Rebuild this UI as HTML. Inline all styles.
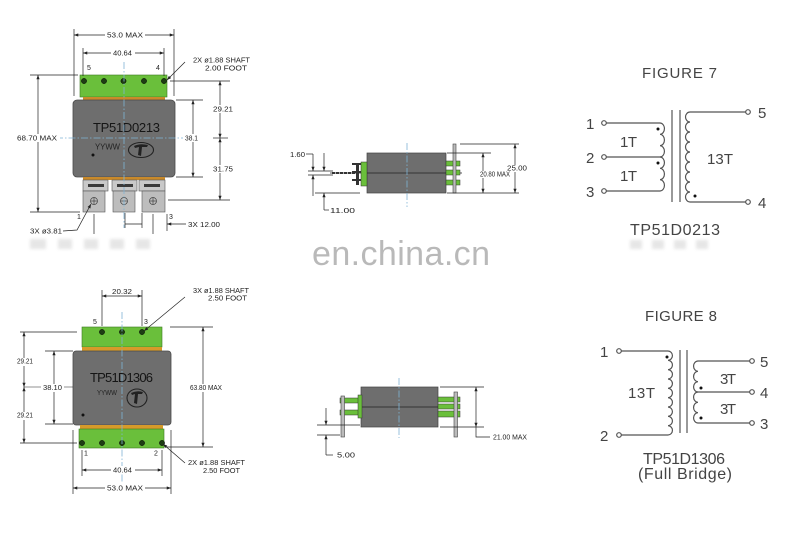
<!DOCTYPE html>
<html><head><meta charset="utf-8"><style>
html,body{margin:0;padding:0;background:#fff;}
svg{display:block;}
text{font-family:"Liberation Sans",sans-serif;}
</style></head><body>
<svg width="800" height="533" viewBox="0 0 800 533" xmlns="http://www.w3.org/2000/svg">
<defs>
<marker id="a" viewBox="0 0 8 6" refX="8" refY="3" markerWidth="5" markerHeight="3.2" orient="auto-start-reverse" markerUnits="userSpaceOnUse"><path d="M0,0 L8,3 L0,6 z" fill="#222"/></marker>
<filter id="bl" x="-20%" y="-50%" width="140%" height="200%"><feGaussianBlur stdDeviation="1.5"/></filter>
</defs>
<rect width="800" height="533" fill="#fff"/>

<!-- watermark artifacts -->
<g fill="#e6e6e6" filter="url(#bl)">
<rect x="30" y="239" width="16" height="10"/><rect x="58" y="239" width="14" height="10"/><rect x="84" y="239" width="14" height="10"/><rect x="110" y="239" width="14" height="10"/><rect x="136" y="239" width="14" height="10"/>
<rect x="630" y="240" width="12" height="9"/><rect x="652" y="240" width="12" height="9"/><rect x="674" y="240" width="12" height="9"/><rect x="696" y="240" width="12" height="9"/>
</g>
<text x="312" y="265" font-size="34" fill="#b9b9b9" textLength="178">en.china.cn</text>

<!-- ============ TOP LEFT ============ -->
<g>
<rect x="80" y="75" width="87" height="22" fill="#6abf3b" stroke="#3c7a22" stroke-width="0.6"/>
<rect x="83" y="97" width="82" height="3.5" fill="#c8892a"/>
<rect x="73" y="100" width="102" height="77" rx="4" fill="#6e6e6e" stroke="#4a4a4a" stroke-width="0.8"/>
<rect x="83" y="177" width="82" height="3" fill="#c8892a"/>
<g fill="#c9c9c9" stroke="#555" stroke-width="0.6">
<rect x="83" y="180" width="25" height="11"/><rect x="112" y="180" width="25" height="11"/><rect x="139" y="180" width="26" height="11"/>
</g>
<g fill="#3a3a3a"><rect x="88" y="184" width="16" height="3"/><rect x="117" y="184" width="16" height="3"/><rect x="144" y="184" width="16" height="3"/></g>
<g fill="#bdbdbd" stroke="#555" stroke-width="0.6">
<rect x="83" y="191" width="22" height="21"/><rect x="113" y="191" width="22" height="21"/><rect x="142" y="191" width="23" height="21"/>
</g>
<g fill="none" stroke="#444" stroke-width="0.7">
<circle cx="94" cy="201" r="3.5"/><path d="M90.5,201 H97.5 M94,197.5 V204.5"/>
<circle cx="124" cy="201" r="3.5"/><path d="M120.5,201 H127.5"/>
<circle cx="153" cy="201" r="3.5"/><path d="M149.5,201 H156.5 M153,197.5 V204.5"/>
</g>
<g fill="#1e3d14" stroke="#000" stroke-width="0.5">
<circle cx="84" cy="81" r="2.6"/><circle cx="104" cy="81" r="2.6"/><circle cx="123.5" cy="81" r="2.6"/><circle cx="144" cy="81" r="2.6"/><circle cx="164" cy="81" r="2.6"/>
</g>
<text x="93" y="132" font-size="13" fill="#151515" textLength="67">TP51D0213</text>
<text x="95" y="149.5" font-size="8" fill="#222" textLength="25" lengthAdjust="spacingAndGlyphs">YYWW</text>
<ellipse cx="141" cy="150" rx="12.5" ry="7.5" fill="none" stroke="#222" stroke-width="1.1"/>
<path d="M134,146 Q140,143 148,145 L147,147 L142,147 L141,156 L138,155 L139,147 L135,148 z" fill="#222"/>
<circle cx="93" cy="155" r="1.5" fill="#111"/>
<g stroke="#7fb3d5" stroke-width="0.8" stroke-dasharray="7 2 1.5 2" fill="none">
<line x1="124" y1="62" x2="124" y2="228"/><line x1="56" y1="138" x2="188" y2="138"/>
</g>
<g stroke="#222" stroke-width="0.7" fill="none">
<line x1="74" y1="29" x2="74" y2="96"/><line x1="174" y1="29" x2="174" y2="96"/>
<line x1="74" y1="35" x2="174" y2="35" marker-start="url(#a)" marker-end="url(#a)"/>
<line x1="83" y1="48" x2="83" y2="76"/><line x1="164" y1="48" x2="164" y2="76"/>
<line x1="83" y1="53" x2="164" y2="53" marker-start="url(#a)" marker-end="url(#a)"/>
<line x1="30" y1="75" x2="78" y2="75"/><line x1="30" y1="212" x2="80" y2="212"/>
<line x1="38" y1="75" x2="38" y2="212" marker-start="url(#a)" marker-end="url(#a)"/>
<line x1="170" y1="81" x2="230" y2="81"/><line x1="176" y1="100" x2="203" y2="100"/><line x1="176" y1="177" x2="203" y2="177"/><line x1="168" y1="200" x2="230" y2="200"/>
<line x1="220" y1="81" x2="220" y2="138" marker-start="url(#a)" marker-end="url(#a)"/>
<line x1="220" y1="138" x2="220" y2="200" marker-start="url(#a)" marker-end="url(#a)"/>
<line x1="213" y1="138" x2="228" y2="138"/>
<line x1="193" y1="100" x2="193" y2="177" marker-start="url(#a)" marker-end="url(#a)"/>
<line x1="185" y1="62" x2="167" y2="80" marker-end="url(#a)"/>
<polyline points="63,231 77,230 91,204" marker-end="url(#a)"/>
<line x1="94" y1="214" x2="94" y2="234"/><line x1="153" y1="214" x2="153" y2="234"/>
<line x1="125" y1="213" x2="125" y2="228"/><line x1="142" y1="213" x2="142" y2="228"/>
<line x1="125" y1="224" x2="142" y2="224"/>
<line x1="167" y1="214" x2="167" y2="231"/>
<line x1="186" y1="224" x2="167" y2="224" marker-end="url(#a)"/>
</g>
<g fill="#fff">
<rect x="105" y="31" width="40" height="8"/><rect x="111" y="49" width="24" height="8"/>
<rect x="15" y="134" width="45" height="8"/><rect x="183" y="134" width="18" height="8"/>
<rect x="211" y="105" width="25" height="8"/><rect x="211" y="165" width="25" height="8"/>
</g>
<g font-size="7" fill="#222" lengthAdjust="spacingAndGlyphs">
<text x="107" y="37.5" textLength="36" lengthAdjust="spacingAndGlyphs">53.0 MAX</text>
<text x="113" y="55.5" textLength="19" lengthAdjust="spacingAndGlyphs">40.64</text>
<text x="87" y="70">5</text><text x="156" y="70">4</text>
<text x="193" y="62.5" textLength="57" lengthAdjust="spacingAndGlyphs">2X ø1.88 SHAFT</text>
<text x="205" y="70.5" textLength="42" lengthAdjust="spacingAndGlyphs">2.00 FOOT</text>
<text x="17" y="140.5" textLength="40" lengthAdjust="spacingAndGlyphs">68.70 MAX</text>
<text x="185" y="140.5" textLength="13" lengthAdjust="spacingAndGlyphs">38.1</text>
<text x="213" y="111.5" textLength="20" lengthAdjust="spacingAndGlyphs">29.21</text>
<text x="213" y="171.5" textLength="20" lengthAdjust="spacingAndGlyphs">31.75</text>
<text x="77" y="219">1</text><text x="169" y="219">3</text>
<text x="30" y="233.5" textLength="32" lengthAdjust="spacingAndGlyphs">3X ø3.81</text>
<text x="188" y="227" textLength="32" lengthAdjust="spacingAndGlyphs">3X 12.00</text>
</g>
</g>

<!-- ============ TOP MIDDLE ============ -->
<g>
<rect x="367" y="153" width="79" height="40" fill="#6e6e6e" stroke="#444" stroke-width="0.7"/>
<line x1="330" y1="173" x2="462" y2="173" stroke="#222" stroke-width="0.8"/>
<line x1="332" y1="173" x2="357" y2="173" stroke="#333" stroke-width="2" stroke-dasharray="3 1"/>
<rect x="356" y="163" width="3" height="22" fill="#333"/>
<g fill="#333"><rect x="352" y="163" width="11" height="2"/><rect x="352" y="171" width="11" height="2"/><rect x="352" y="179" width="11" height="2"/></g>
<rect x="361" y="162" width="6" height="24" fill="#6abf3b" stroke="#333" stroke-width="0.5"/>
<g fill="#6abf3b" stroke="#333" stroke-width="0.5">
<rect x="446" y="161" width="14" height="5"/><rect x="446" y="170" width="14" height="5"/><rect x="446" y="180" width="14" height="5"/>
</g>
<rect x="453" y="144" width="3" height="49" fill="#bbb" stroke="#444" stroke-width="0.6"/>
<line x1="407" y1="143" x2="407" y2="207" stroke="#7fb3d5" stroke-width="0.8" stroke-dasharray="7 2 1.5 2"/>
<g stroke="#222" stroke-width="0.7" fill="none">
<line x1="306" y1="154" x2="313" y2="154"/>
<line x1="313" y1="154" x2="313" y2="171" marker-end="url(#a)"/>
<line x1="313" y1="196" x2="313" y2="175" marker-end="url(#a)"/>
<line x1="308" y1="171" x2="333" y2="171"/><line x1="308" y1="175" x2="333" y2="175"/>
<line x1="315" y1="193" x2="360" y2="193"/>
<line x1="324" y1="153" x2="324" y2="171" marker-end="url(#a)"/>
<line x1="324" y1="210" x2="324" y2="193" marker-end="url(#a)"/>
<line x1="324" y1="210" x2="329" y2="210"/>
<line x1="460" y1="144" x2="519" y2="144"/><line x1="447" y1="153" x2="491" y2="153"/><line x1="447" y1="193" x2="519" y2="193"/>
<line x1="483" y1="153" x2="483" y2="193" marker-start="url(#a)" marker-end="url(#a)"/>
<line x1="515" y1="144" x2="515" y2="193" marker-start="url(#a)" marker-end="url(#a)"/>
</g>
<g fill="#fff"><rect x="479" y="171" width="31" height="7"/><rect x="506" y="165" width="22" height="7"/></g>
<g font-size="7" fill="#222">
<text x="290" y="157" textLength="15" lengthAdjust="spacingAndGlyphs">1.60</text>
<text x="330" y="213" textLength="25" lengthAdjust="spacingAndGlyphs">11.00</text>
<text x="480" y="176.5" textLength="30" lengthAdjust="spacingAndGlyphs">20.80 MAX</text>
<text x="507" y="170.5" textLength="20" lengthAdjust="spacingAndGlyphs">25.00</text>
</g>
</g>

<!-- ============ TOP RIGHT: FIGURE 7 ============ -->
<g fill="#444" font-size="15">
<text x="642" y="78" textLength="75">FIGURE 7</text>
<text x="586" y="129">1</text><text x="586" y="163">2</text><text x="586" y="197">3</text>
<text x="758" y="118">5</text><text x="758" y="208">4</text>
<text x="620" y="147" textLength="17">1T</text><text x="620" y="181" textLength="17">1T</text>
<text x="707" y="164" textLength="26">13T</text>
<text x="630" y="235" font-size="16" textLength="90">TP51D0213</text>
</g>
<g fill="none" stroke="#555" stroke-width="1.2">
<circle cx="604" cy="123" r="2.3"/><circle cx="604" cy="157" r="2.3"/><circle cx="604" cy="191" r="2.3"/>
<circle cx="748" cy="112" r="2.3"/><circle cx="748" cy="202" r="2.3"/>
<path d="M606.3,123 H660 a4.5,5.667 0 0 1 0,11.333 a4.5,5.667 0 0 1 0,11.333 a4.5,5.667 0 0 1 0,11.333"/>
<path d="M606.3,157 H660 a4.5,5.667 0 0 1 0,11.333 a4.5,5.667 0 0 1 0,11.333 a4.5,5.667 0 0 1 0,11.333 H606.3"/>
<line x1="672" y1="110" x2="672" y2="202"/><line x1="680" y1="110" x2="680" y2="202"/>
<path d="M745.7,112 H690 a4.5,5 0 0 0 0,10 a4.5,5 0 0 0 0,10 a4.5,5 0 0 0 0,10 a4.5,5 0 0 0 0,10 a4.5,5 0 0 0 0,10 a4.5,5 0 0 0 0,10 a4.5,5 0 0 0 0,10 a4.5,5 0 0 0 0,10 a4.5,5 0 0 0 0,10 H745.7"/>
</g>
<g fill="#111"><circle cx="658" cy="129" r="1.5"/><circle cx="658" cy="163" r="1.5"/><circle cx="695" cy="196" r="1.5"/></g>

<!-- ============ BOTTOM LEFT ============ -->
<g>
<rect x="82" y="327" width="80" height="20" fill="#6abf3b" stroke="#3c7a22" stroke-width="0.6"/>
<rect x="82" y="347" width="80" height="4" fill="#d69a2a"/>
<rect x="73" y="351" width="98" height="74" rx="3" fill="#6e6e6e" stroke="#4a4a4a" stroke-width="0.8"/>
<rect x="80" y="425" width="83" height="4" fill="#d69a2a"/>
<rect x="79" y="429" width="85" height="19" fill="#6abf3b" stroke="#3c7a22" stroke-width="0.6"/>
<g fill="#1e3d14" stroke="#000" stroke-width="0.5">
<circle cx="102" cy="332" r="2.6"/><circle cx="122" cy="332" r="2.6"/><circle cx="142" cy="332" r="2.6"/>
<circle cx="82" cy="443" r="2.6"/><circle cx="102" cy="443" r="2.6"/><circle cx="122" cy="443" r="2.6"/><circle cx="142" cy="443" r="2.6"/><circle cx="162" cy="443" r="2.6"/>
</g>
<text x="90" y="382" font-size="13" fill="#151515" textLength="63">TP51D1306</text>
<text x="97" y="395" font-size="7" fill="#222" textLength="20" lengthAdjust="spacingAndGlyphs">YYWW</text>
<ellipse cx="137" cy="398" rx="10" ry="9" fill="none" stroke="#222" stroke-width="1.1"/>
<path d="M131,393 Q137,390 143,392 L142,394 L138,394 L137,404 L134,403 L135,394 L132,395 z" fill="#222"/>
<circle cx="83" cy="415" r="1.5" fill="#111"/>
<line x1="122" y1="312" x2="122" y2="482" stroke="#7fb3d5" stroke-width="0.8" stroke-dasharray="7 2 1.5 2"/>
<g stroke="#222" stroke-width="0.7" fill="none">
<line x1="102" y1="290" x2="102" y2="326"/><line x1="142" y1="290" x2="142" y2="326"/>
<line x1="102" y1="296" x2="142" y2="296" marker-start="url(#a)" marker-end="url(#a)"/>
<line x1="185" y1="297" x2="144" y2="331" marker-end="url(#a)"/>
<line x1="20" y1="332" x2="77" y2="332"/><line x1="45" y1="351" x2="73" y2="351"/>
<line x1="24" y1="387" x2="73" y2="387" stroke-width="0.5"/>
<line x1="45" y1="424" x2="73" y2="424"/><line x1="20" y1="443" x2="77" y2="443"/>
<line x1="24" y1="332" x2="24" y2="387" marker-start="url(#a)" marker-end="url(#a)"/>
<line x1="24" y1="387" x2="24" y2="443" marker-start="url(#a)" marker-end="url(#a)"/>
<line x1="54" y1="351" x2="54" y2="424" marker-start="url(#a)" marker-end="url(#a)"/>
<line x1="170" y1="327" x2="213" y2="327"/><line x1="165" y1="447" x2="213" y2="447"/>
<line x1="203" y1="327" x2="203" y2="447" marker-start="url(#a)" marker-end="url(#a)"/>
<line x1="163" y1="444" x2="185" y2="463" marker-start="url(#a)"/>
<line x1="82" y1="450" x2="82" y2="476"/><line x1="162" y1="450" x2="162" y2="476"/>
<line x1="82" y1="470" x2="162" y2="470" marker-start="url(#a)" marker-end="url(#a)"/>
<line x1="73" y1="430" x2="73" y2="494"/><line x1="171" y1="430" x2="171" y2="494"/>
<line x1="73" y1="488" x2="171" y2="488" marker-start="url(#a)" marker-end="url(#a)"/>
</g>
<g fill="#fff">
<rect x="110" y="289" width="24" height="5"/>
<rect x="15" y="358" width="20" height="8"/><rect x="15" y="412" width="20" height="8"/>
<rect x="41" y="384" width="23" height="8"/><rect x="188" y="384" width="36" height="8"/>
<rect x="111" y="466" width="24" height="8"/><rect x="105" y="484" width="40" height="8"/>
</g>
<g font-size="7" fill="#222">
<text x="112" y="294" textLength="20" lengthAdjust="spacingAndGlyphs">20.32</text>
<text x="193" y="293" textLength="56" lengthAdjust="spacingAndGlyphs">3X ø1.88 SHAFT</text>
<text x="208" y="300.5" textLength="39" lengthAdjust="spacingAndGlyphs">2.50 FOOT</text>
<text x="93" y="324">5</text><text x="144" y="324">3</text>
<text x="17" y="363.5" textLength="16" lengthAdjust="spacingAndGlyphs">29.21</text>
<text x="17" y="417.5" textLength="16" lengthAdjust="spacingAndGlyphs">29.21</text>
<text x="43" y="390" textLength="19" lengthAdjust="spacingAndGlyphs">38.10</text>
<text x="190" y="390" textLength="32" lengthAdjust="spacingAndGlyphs">63.80 MAX</text>
<text x="84" y="455.5">1</text><text x="154" y="455.5">2</text>
<text x="188" y="465" textLength="57" lengthAdjust="spacingAndGlyphs">2X ø1.88 SHAFT</text>
<text x="203" y="473" textLength="37" lengthAdjust="spacingAndGlyphs">2.50 FOOT</text>
<text x="113" y="472.5" textLength="19" lengthAdjust="spacingAndGlyphs">40.64</text>
<text x="107" y="490.5" textLength="36" lengthAdjust="spacingAndGlyphs">53.0 MAX</text>
</g>
</g>

<!-- ============ BOTTOM MIDDLE ============ -->
<g>
<rect x="361" y="387" width="77" height="40" fill="#6e6e6e" stroke="#444" stroke-width="0.7"/>
<line x1="361" y1="407" x2="438" y2="407" stroke="#222" stroke-width="0.8"/>
<g fill="#6abf3b" stroke="#333" stroke-width="0.5">
<rect x="340" y="398" width="21" height="5"/><rect x="340" y="410" width="21" height="5"/>
<rect x="358" y="395" width="4" height="23"/>
<rect x="438" y="397" width="22" height="5"/><rect x="438" y="404" width="22" height="5"/><rect x="438" y="411" width="22" height="6"/>
</g>
<rect x="341" y="396" width="3.5" height="41" fill="#bbb" stroke="#444" stroke-width="0.6"/>
<rect x="454" y="392" width="3.5" height="45" fill="#bbb" stroke="#444" stroke-width="0.6"/>
<line x1="399" y1="378" x2="399" y2="438" stroke="#7fb3d5" stroke-width="0.8" stroke-dasharray="7 2 1.5 2"/>
<g stroke="#222" stroke-width="0.7" fill="none">
<line x1="317" y1="425" x2="360" y2="425"/><line x1="317" y1="435" x2="340" y2="435"/>
<line x1="326" y1="408" x2="326" y2="425" marker-end="url(#a)"/>
<line x1="326" y1="455" x2="326" y2="435" marker-end="url(#a)"/>
<line x1="326" y1="455" x2="333" y2="455"/>
<line x1="440" y1="387" x2="484" y2="387"/><line x1="440" y1="427" x2="484" y2="427"/>
<line x1="476" y1="387" x2="476" y2="427" marker-start="url(#a)" marker-end="url(#a)"/>
<polyline points="476,427 476,437 490,437"/>
</g>
<g font-size="7" fill="#222">
<text x="337" y="457.5" textLength="18" lengthAdjust="spacingAndGlyphs">5.00</text>
<text x="493" y="439.5" textLength="34" lengthAdjust="spacingAndGlyphs">21.00 MAX</text>
</g>
</g>

<!-- ============ BOTTOM RIGHT: FIGURE 8 ============ -->
<g fill="#444" font-size="15">
<text x="645" y="321" textLength="72">FIGURE 8</text>
<text x="600" y="357">1</text><text x="600" y="441">2</text>
<text x="760" y="367">5</text><text x="760" y="398">4</text><text x="760" y="429">3</text>
<text x="628" y="398" textLength="27">13T</text>
<text x="720" y="384" textLength="16">3T</text><text x="720" y="414" textLength="16">3T</text>
<text x="643" y="464" font-size="16" textLength="82">TP51D1306</text>
<text x="638" y="479" font-size="16" textLength="94">(Full Bridge)</text>
</g>
<g fill="none" stroke="#555" stroke-width="1.2">
<circle cx="619" cy="351" r="2.3"/><circle cx="619" cy="435" r="2.3"/>
<circle cx="752" cy="361" r="2.3"/><circle cx="752" cy="392" r="2.3"/><circle cx="752" cy="423" r="2.3"/>
<path d="M621.3,351 H668 a4.5,4.667 0 0 1 0,9.333 a4.5,4.667 0 0 1 0,9.333 a4.5,4.667 0 0 1 0,9.333 a4.5,4.667 0 0 1 0,9.333 a4.5,4.667 0 0 1 0,9.333 a4.5,4.667 0 0 1 0,9.333 a4.5,4.667 0 0 1 0,9.333 a4.5,4.667 0 0 1 0,9.333 a4.5,4.667 0 0 1 0,9.333 H621.3"/>
<line x1="680" y1="350" x2="680" y2="433"/><line x1="687" y1="350" x2="687" y2="433"/>
<path d="M749.7,361 H698 a4.5,5.167 0 0 0 0,10.333 a4.5,5.167 0 0 0 0,10.333 a4.5,5.167 0 0 0 0,10.333"/>
<path d="M749.7,392 H698 a4.5,5.167 0 0 0 0,10.333 a4.5,5.167 0 0 0 0,10.333 a4.5,5.167 0 0 0 0,10.333 H749.7"/>
</g>
<g fill="#111"><circle cx="667" cy="357" r="1.5"/><circle cx="701" cy="388" r="1.5"/><circle cx="701" cy="418" r="1.5"/></g>
</svg>
</body></html>
